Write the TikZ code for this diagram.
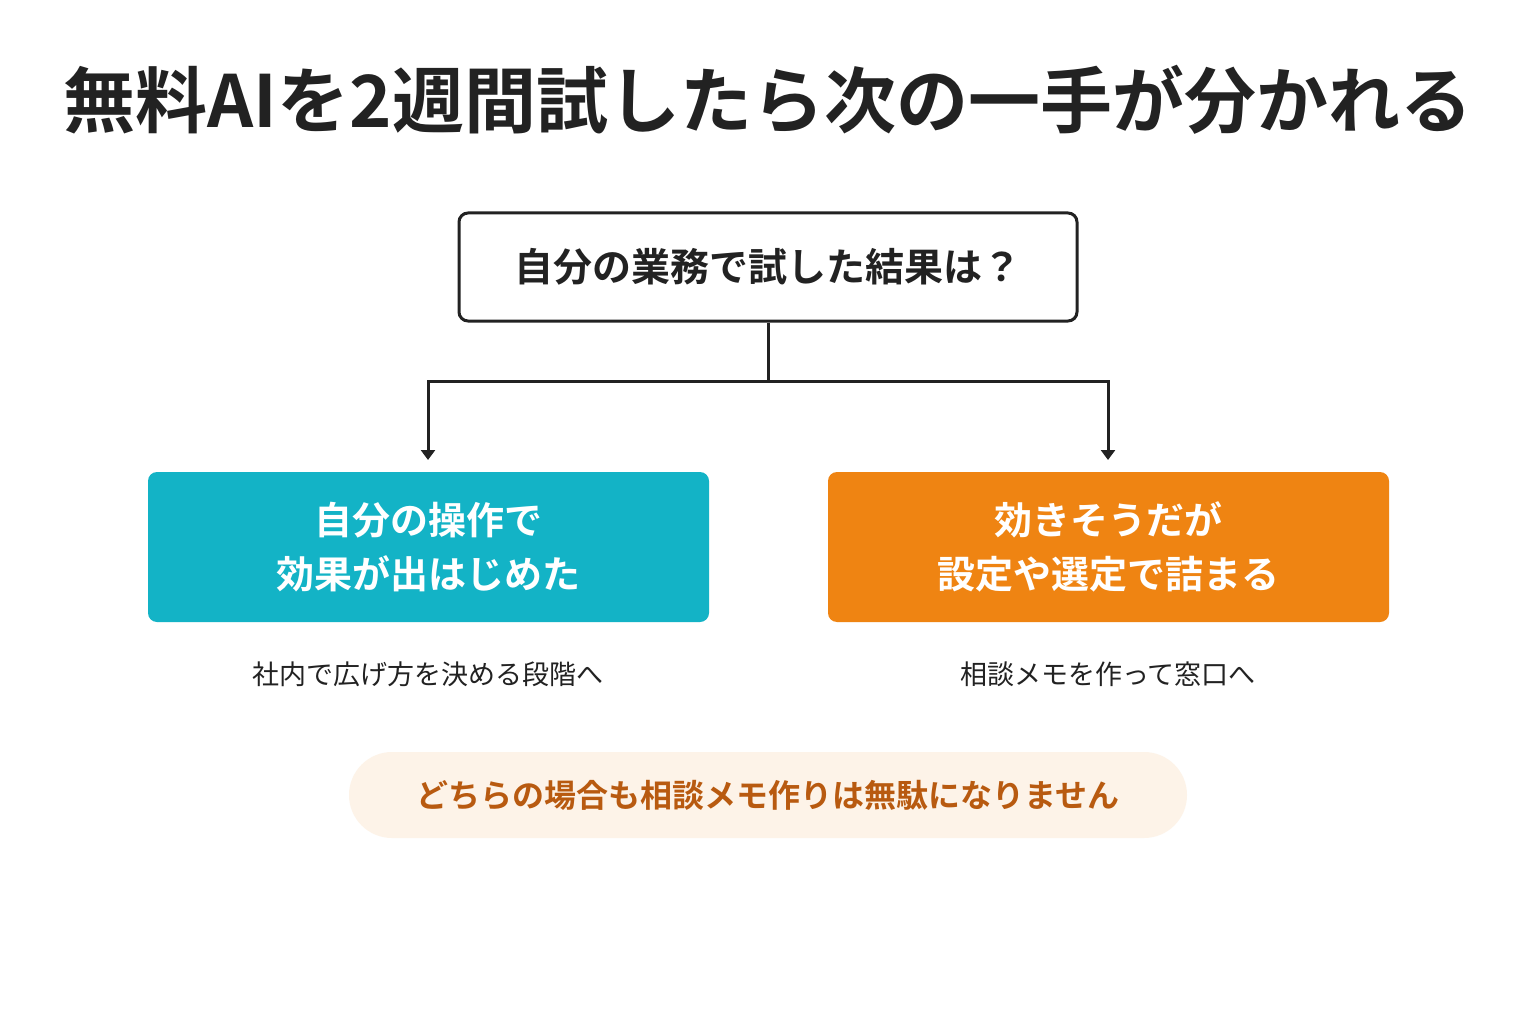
\documentclass[tikz,border=0pt]{standalone}
\usepackage{fontspec}
\setmainfont{Noto Sans CJK JP}
\newfontfamily\jpb{Noto Sans CJK JP Bold}[BoldFont={Noto Sans CJK JP Bold}]
\usetikzlibrary{arrows.meta}
\definecolor{teal1}{HTML}{13B3C6}
\definecolor{orng}{HTML}{EF8412}
\definecolor{ink}{HTML}{222222}
\definecolor{pill}{HTML}{FDF3E8}
\definecolor{pilltxt}{HTML}{B85A10}
\begin{document}
\begin{tikzpicture}[x=1pt,y=-1pt,
  lbl/.style={font=\jpb\fontsize{38}{54}\selectfont,align=center,text=white},
  captxt/.style={font=\fontsize{27}{32}\selectfont,text=ink},
  conn/.style={line width=3pt,draw=ink},
  arr/.style={conn,-{Triangle[width=14pt,length=10pt]}}]
\useasboundingbox[fill=white] (0,0) rectangle (1536,1024);
\node[font=\jpb\fontsize{72}{80}\selectfont,text=ink] (title) at (768,100) {無料AIを2週間試したら次の一手が分かれる};
\node[draw=ink,line width=3pt,rounded corners=9pt,minimum width=618pt,minimum height=108pt,font=\jpb\fontsize{39}{46}\selectfont,text=ink] (q) at (768,267) {自分の業務で試した結果は？};
\node[fill=teal1,rounded corners=9pt,minimum width=561pt,minimum height=150pt,lbl] (l) at (428.5,547) {自分の操作で\\効果が出はじめた};
\node[fill=orng,rounded corners=9pt,minimum width=561pt,minimum height=150pt,lbl] (r) at (1108.5,547) {効きそうだが\\設定や選定で詰まる};
\coordinate (j) at (768,381);
\coordinate (lt) at (428,460);
\coordinate (rt) at (1108,460);
\draw[conn] (q.south) -- (j);
\draw[arr] (j) -| (lt);
\draw[arr] (j) -| (rt);
\node[captxt] (lc) at (428,674) {社内で広げ方を決める段階へ};
\node[captxt] (rc) at (1108,674) {相談メモを作って窓口へ};
\node[fill=pill,rounded corners=43pt,minimum width=838pt,minimum height=86pt,font=\jpb\fontsize{32}{38}\selectfont,text=pilltxt] (p) at (768,795) {どちらの場合も相談メモ作りは無駄になりません};
\end{tikzpicture}
\end{document}
